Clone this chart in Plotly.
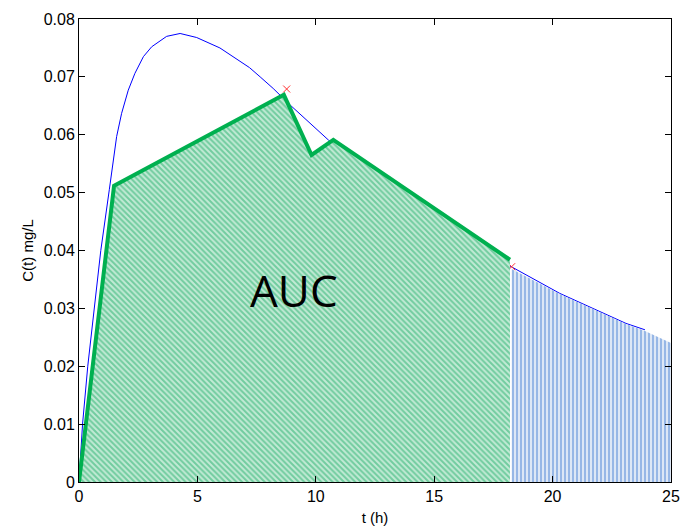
import plotly.graph_objects as go

# Fitted concentration curve (blue)
t_curve = [0, 0.15, 0.37, 0.66, 0.92, 1.28, 1.59, 1.80, 2.08, 2.36, 2.72, 3.07, 3.7,
           4.27, 4.97, 5.95, 6.52, 7.2, 7.65, 8.2, 8.9, 9.89, 10.53, 11.5, 12.5,
           13.5, 14.5, 15.5, 16.5, 17.5, 18.27, 18.9, 20.3, 21.7, 23.1, 23.9]
c_curve = [0, 0.0100, 0.0200, 0.0300, 0.0400, 0.0505, 0.0597, 0.0637, 0.0677, 0.0706,
           0.0735, 0.0752, 0.0770, 0.0775, 0.0768, 0.0750, 0.0735, 0.0716, 0.0700,
           0.0680, 0.0652, 0.0614, 0.0591, 0.0558, 0.0526, 0.0495, 0.0466, 0.0439,
           0.0413, 0.0389, 0.0372, 0.0357, 0.0326, 0.0300, 0.0274, 0.0263]

# Observed points (green polyline, trapezoid AUC)
t_obs = [0, 1.48, 8.65, 9.82, 10.74, 18.2]
c_obs = [0, 0.0512, 0.0669, 0.0565, 0.0591, 0.0384]

# Extrapolated tail area (blue vertical hatch)
t_tail = [18.27, 18.9, 20.3, 21.7, 23.1, 23.9, 25.0]
c_tail = [0.0368, 0.0355, 0.0325, 0.0299, 0.0273, 0.0261, 0.0240]

# Red cross markers
t_mark = [8.77, 9.78, 18.27]
c_mark = [0.0679, 0.0561, 0.0372]

x_ticks = [0, 5, 10, 15, 20, 25]
y_ticks = [0, 0.01, 0.02, 0.03, 0.04, 0.05, 0.06, 0.07, 0.08]
y_ticktext = ["0", "0.01", "0.02", "0.03", "0.04", "0.05", "0.06", "0.07", "0.08"]

fig = go.Figure()

fig.add_trace(go.Scatter(x=t_curve, y=c_curve, mode="lines",
                         line=dict(color="#0000ff", width=1), hoverinfo="skip"))

fig.add_trace(go.Scatter(x=t_tail, y=c_tail, mode="lines", fill="tozeroy",
                         line=dict(width=0, color="rgba(0,0,0,0)"),
                         fillcolor="rgba(0,0,0,0)",
                         fillpattern=dict(shape="|", size=4, solidity=0.6,
                                          fgcolor="#3f7bd2", bgcolor="#eef3fb"),
                         hoverinfo="skip"))

fig.add_trace(go.Scatter(x=t_mark, y=c_mark, mode="markers",
                         marker=dict(symbol="x-thin", size=7, color="#ff3030",
                                     line=dict(width=1, color="#ff3030")),
                         hoverinfo="skip"))

fig.add_trace(go.Scatter(x=t_obs, y=c_obs, mode="lines", fill="tozeroy",
                         line=dict(width=0, color="rgba(0,0,0,0)"),
                         fillcolor="rgba(0,0,0,0)",
                         fillpattern=dict(shape="\\", size=4, solidity=0.5,
                                          fgcolor="#1fae69", bgcolor="#c2ead5"),
                         hoverinfo="skip"))

fig.add_trace(go.Scatter(x=t_obs, y=c_obs, mode="lines",
                         line=dict(color="#00b050", width=4), hoverinfo="skip"))

fig.add_annotation(x=9.1, y=0.0332, text="AUC", showarrow=False,
                   font=dict(family="Open Sans", size=44, color="black"))

axis_common = dict(showline=True, linecolor="black", linewidth=1, mirror="ticks",
                   ticks="inside", ticklen=6, tickcolor="black", showgrid=False,
                   zeroline=False, automargin=False,
                   tickfont=dict(family="Liberation Sans", size=16, color="black"))

fig.update_xaxes(range=[0, 25], tickmode="array", tickvals=x_ticks,
                 title=dict(text="t (h)", font=dict(family="Liberation Sans", size=15, color="black"),
                            standoff=8),
                 **axis_common)
fig.update_yaxes(range=[0, 0.08], tickmode="array", tickvals=y_ticks, ticktext=y_ticktext,
                 title=dict(text="C(t) mg/L", font=dict(family="Liberation Sans", size=15, color="black"),
                            standoff=6),
                 **axis_common)

fig.update_layout(width=680, height=529, showlegend=False,
                  plot_bgcolor="white", paper_bgcolor="white",
                  margin=dict(l=79, r=9, t=19, b=47))

fig.write_html("out.html")
